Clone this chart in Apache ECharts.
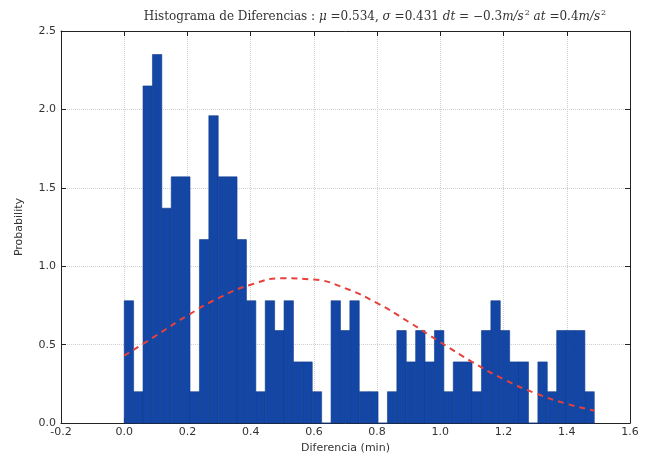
<!DOCTYPE html>
<html>
<head>
<meta charset="utf-8">
<script src="https://cdn.jsdelivr.net/npm/echarts@6/dist/echarts.min.js"></script>
<style>
  html, body { margin: 0; padding: 0; background: #fff; }
  #main { width: 651px; height: 459px; }
</style>
</head>
<body>
<div id="main"></div>
<script>
// histogram bins: 50 bins starting at 0
var binStart = 0.0;
var binWidth = 0.02974;
var binDensity = [
    0.78, 0.20, 2.15, 2.35, 1.37, 1.57, 1.57, 0.20, 1.17, 1.96,
    1.57, 1.57, 1.17, 0.78, 0.20, 0.78, 0.59, 0.78, 0.39, 0.39,
    0.20, 0.00, 0.78, 0.59, 0.78, 0.20, 0.20, 0.00, 0.20, 0.59,
    0.39, 0.59, 0.39, 0.59, 0.20, 0.39, 0.39, 0.20, 0.59, 0.78,
    0.59, 0.39, 0.39, 0.00, 0.39, 0.20, 0.59, 0.59, 0.59, 0.20
];

// fitted normal curve
var curveX = [0.0, 0.1, 0.2, 0.3, 0.4, 0.5, 0.6, 0.7, 0.8, 0.9, 1.0, 1.1, 1.2, 1.3, 1.4, 1.487];
var curveY = [0.43, 0.557, 0.686, 0.799, 0.882, 0.923, 0.915, 0.859, 0.765, 0.645, 0.516, 0.391, 0.280, 0.191, 0.123, 0.080];

var xTicks = [-0.2, 0.0, 0.2, 0.4, 0.6, 0.8, 1.0, 1.2, 1.4, 1.6];
var yTicks = [0.0, 0.5, 1.0, 1.5, 2.0, 2.5];

var barData = binDensity.map(function (v, i) {
    return [binStart + i * binWidth, binStart + (i + 1) * binWidth, v];
});
var curveData = curveX.map(function (x, i) { return [x, curveY[i]]; });

var myChart = echarts.init(document.getElementById('main'));

var labelFont = { fontFamily: 'DejaVu Sans', fontSize: 11, color: '#333' };
var serif = 'DejaVu Serif';
var frameLine = { show: true, onZero: false, lineStyle: { color: '#222', width: 1 } };
var innerTick = { show: true, inside: true, length: 5, lineStyle: { color: '#222' } };
var gridLine = { show: true, lineStyle: { color: '#cfcfcf', type: 'dotted' } };

myChart.setOption({
    animation: false,
    title: {
        text: '{n|Histograma de Diferencias : }{i|μ}{n| =0.534, }{i|σ}{n| =0.431 }{i|dt}{n| = −0.3}{i|m/s}{s|2}{n| }{i|at}{n| =0.4}{i|m/s}{s|2}',
        left: 370,
        textAlign: 'center',
        top: 4,
        textStyle: {
            rich: {
                n: { fontFamily: serif, fontSize: 12, fontWeight: 'normal', color: '#333' },
                i: { fontFamily: serif, fontSize: 12, fontWeight: 'normal', fontStyle: 'italic', color: '#333' },
                s: { fontFamily: serif, fontSize: 8, fontWeight: 'normal', color: '#333', verticalAlign: 'top', padding: [0, 0, 8, 1] }
            }
        }
    },
    grid: { left: 61, right: 21, top: 31, bottom: 35 },
    xAxis: [{
        type: 'value',
        min: xTicks[0],
        max: xTicks[xTicks.length - 1],
        interval: 0.2,
        name: 'Diferencia (min)',
        nameLocation: 'middle',
        nameGap: 16,
        nameTextStyle: labelFont,
        axisLine: frameLine,
        axisTick: innerTick,
        axisLabel: Object.assign({ margin: 4, formatter: function (v) { return v.toFixed(1); } }, labelFont),
        splitLine: gridLine
    }, {
        type: 'value',
        position: 'top',
        min: xTicks[0],
        max: xTicks[xTicks.length - 1],
        interval: 0.2,
        axisLine: frameLine,
        axisTick: innerTick,
        axisLabel: { show: false },
        splitLine: { show: false }
    }],
    yAxis: [{
        type: 'value',
        min: yTicks[0],
        max: yTicks[yTicks.length - 1],
        interval: 0.5,
        name: 'Probability',
        nameLocation: 'middle',
        nameGap: 36,
        nameTextStyle: labelFont,
        axisLine: frameLine,
        axisTick: innerTick,
        axisLabel: Object.assign({ margin: 5, formatter: function (v) { return v.toFixed(1); } }, labelFont),
        splitLine: gridLine
    }, {
        type: 'value',
        position: 'right',
        min: yTicks[0],
        max: yTicks[yTicks.length - 1],
        interval: 0.5,
        axisLine: frameLine,
        axisTick: innerTick,
        axisLabel: { show: false },
        splitLine: { show: false }
    }],
    series: [{
        type: 'custom',
        xAxisIndex: 0,
        yAxisIndex: 0,
        data: barData,
        renderItem: function (params, api) {
            var p0 = api.coord([api.value(0), api.value(2)]);
            var p1 = api.coord([api.value(1), 0]);
            return {
                type: 'rect',
                shape: { x: p0[0], y: p0[1], width: p1[0] - p0[0], height: p1[1] - p0[1] },
                style: { fill: '#1447a5', stroke: '#0f3a8c', lineWidth: 0.6 }
            };
        },
        encode: { x: [0, 1], y: 2 }
    }, {
        type: 'line',
        xAxisIndex: 0,
        yAxisIndex: 0,
        data: curveData,
        smooth: true,
        showSymbol: false,
        lineStyle: { color: '#e8403a', width: 2, type: [6, 5] },
        z: 5
    }]
});
</script>
</body>
</html>
